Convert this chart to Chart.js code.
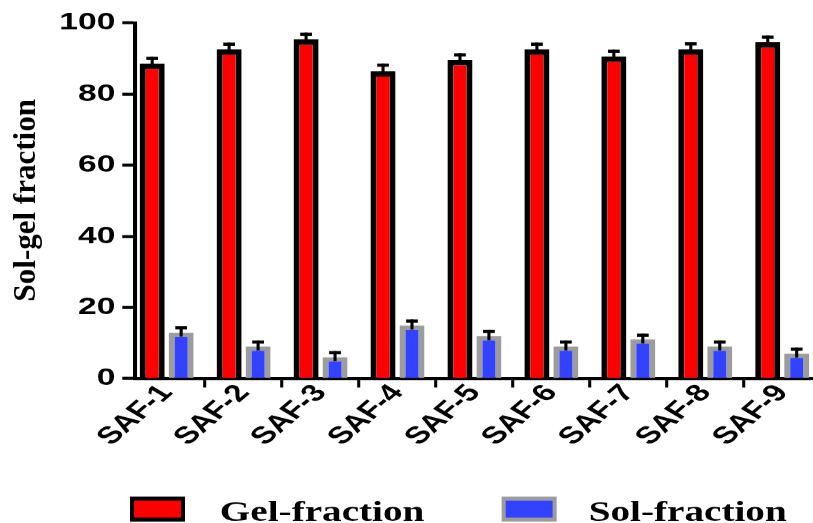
<!DOCTYPE html>
<html>
<head>
<meta charset="utf-8">
<script src="https://cdn.jsdelivr.net/npm/chart.js@4.4.1/dist/chart.umd.min.js"></script>
<style>
  html, body { margin: 0; padding: 0; background: #fff; overflow: hidden; width: 813px; height: 523px; }
  #wrap { position: absolute; left: 0; top: 0; width: 581px; height: 523px; transform-origin: 0 0; transform: scaleX(1.39931); }
  canvas { display: block; }
</style>
</head>
<body>
<div id="wrap"><canvas id="chart" width="581" height="523"></canvas></div>
<script>
// Samples and measured fractions (%)
const categories = ['SAF-1', 'SAF-2', 'SAF-3', 'SAF-4', 'SAF-5', 'SAF-6', 'SAF-7', 'SAF-8', 'SAF-9'];
const gelFraction = [88.6, 92.6, 95.4, 86.5, 89.6, 92.6, 90.6, 92.6, 94.6];
const gelError = [1.9, 1.9, 1.9, 2.1, 1.9, 1.9, 1.9, 2.0, 1.9];
const solFraction = [12.9, 9.0, 6.0, 14.9, 11.9, 9.0, 11.0, 9.0, 7.0];
const solError = [1.8, 1.7, 1.7, 1.7, 1.8, 1.7, 1.6, 1.7, 1.7];
const yTicks = [0, 20, 40, 60, 80, 100];
const seriesNames = ['Gel-fraction', 'Sol-fraction'];
const yTitleText = 'Sol-gel fraction';

// the figure is laid out narrow and widened horizontally by the wrapper
const SX = 813 / 581;

const tickFont = { family: '"Liberation Sans", Arial, sans-serif', weight: 'bold', size: 24 };
const catFont = { family: '"Liberation Sans", Arial, sans-serif', weight: 'bold', size: 24 };

// upward-only error bars with a flat cap
const errorBars = {
  id: 'errorBars',
  afterDatasetsDraw(chart) {
    const ctx = chart.ctx;
    const y = chart.scales.y;
    chart.data.datasets.forEach((ds, d) => {
      const meta = chart.getDatasetMeta(d);
      meta.data.forEach((bar, i) => {
        const v = ds.data[i].y;
        const top = y.getPixelForValue(v + ds.errors[i]);
        const base = y.getPixelForValue(v);
        ctx.save();
        ctx.fillStyle = '#000';
        ctx.fillRect(bar.x - 1.1, top, 2.2, base - top + 4);
        ctx.fillRect(bar.x - 4.2, top, 8.4, 3.2);
        ctx.restore();
      });
    });
  }
};

// rotated axis title, drawn with a counter-scale so it keeps its natural proportions
const yTitle = {
  id: 'yTitle',
  afterDraw(chart) {
    const ctx = chart.ctx;
    ctx.save();
    ctx.translate(35.4 / SX, 200);
    ctx.scale(1 / SX, 1);
    ctx.rotate(-Math.PI / 2);
    ctx.font = 'bold 31px "Liberation Serif", "Times New Roman", serif';
    ctx.fillStyle = '#000';
    ctx.textAlign = 'center';
    ctx.textBaseline = 'alphabetic';
    ctx.fillText(yTitleText, 0, 0);
    ctx.restore();
  }
};

// legend row under the axis labels
const LEGEND = { swatchX: [92.9, 358.5], textX: [157.1, 420.7], top: 496, w: 39.3, h: 25, bx: 2.9, by: 4, baseline: 520 };
const bottomLegend = {
  id: 'bottomLegend',
  afterDraw(chart) {
    const ctx = chart.ctx;
    ctx.save();
    chart.data.datasets.forEach((ds, i) => {
      const x = LEGEND.swatchX[i];
      ctx.fillStyle = ds.borderColor;
      ctx.fillRect(x, LEGEND.top, LEGEND.w, LEGEND.h);
      ctx.fillStyle = ds.backgroundColor;
      ctx.fillRect(x + LEGEND.bx, LEGEND.top + LEGEND.by, LEGEND.w - 2 * LEGEND.bx, LEGEND.h - 2 * LEGEND.by);
      ctx.fillStyle = '#000';
      ctx.font = 'bold 28px "Liberation Serif", "Times New Roman", serif';
      ctx.textBaseline = 'alphabetic';
      ctx.textAlign = 'left';
      ctx.fillText(ds.label, LEGEND.textX[i], LEGEND.baseline);
    });
    ctx.restore();
  }
};

const barStyle = {
  borderWidth: { top: 5.5, left: 4.3, right: 4.3, bottom: 0 },
  categoryPercentage: 0.753,
  barPercentage: 0.865
};

new Chart(document.getElementById('chart'), {
  type: 'bar',
  data: {
    datasets: [
      Object.assign({
        label: seriesNames[0],
        data: gelFraction.map((v, i) => ({ x: i, y: v })),
        errors: gelError,
        backgroundColor: '#ff0000',
        borderColor: '#000000'
      }, barStyle),
      Object.assign({
        label: seriesNames[1],
        data: solFraction.map((v, i) => ({ x: i, y: v })),
        errors: solError,
        backgroundColor: '#3342ff',
        borderColor: '#9c9c9c',
        borderWidth: { top: 4.3, left: 4.3, right: 4.3, bottom: 0 }
      }, { categoryPercentage: barStyle.categoryPercentage, barPercentage: barStyle.barPercentage })
    ]
  },
  options: {
    responsive: false,
    animation: false,
    devicePixelRatio: SX,
    layout: { padding: { left: 0, right: 0, top: 23, bottom: 0 } },
    plugins: { legend: { display: false }, tooltip: { enabled: false } },
    scales: {
      x: {
        type: 'linear',
        min: -0.413,
        max: 8.4,
        offset: false,
        afterBuildTicks: s => { s.ticks = categories.map((c, i) => ({ value: i })); },
        afterFit: s => { s.height = 145; },
        ticks: {
          autoSkip: false,
          minRotation: 50,
          maxRotation: 50,
          padding: -8,
          color: '#000',
          font: catFont,
          callback: v => categories[v]
        },
        grid: { drawOnChartArea: false, tickLength: 9, tickWidth: 2.2, tickColor: '#000' },
        border: { display: true, color: '#000', width: 3 }
      },
      y: {
        min: 0,
        max: 100,
        afterBuildTicks: s => { s.ticks = yTicks.map(v => ({ value: v })); },
        afterFit: s => { s.width = 96.4; },
        ticks: { color: '#000', font: tickFont, padding: 5 },
        grid: { drawOnChartArea: false, tickLength: 9, tickWidth: 3, tickColor: '#000' },
        border: { display: true, color: '#000', width: 2.9 }
      }
    }
  },
  plugins: [errorBars, yTitle, bottomLegend]
});
</script>
</body>
</html>
